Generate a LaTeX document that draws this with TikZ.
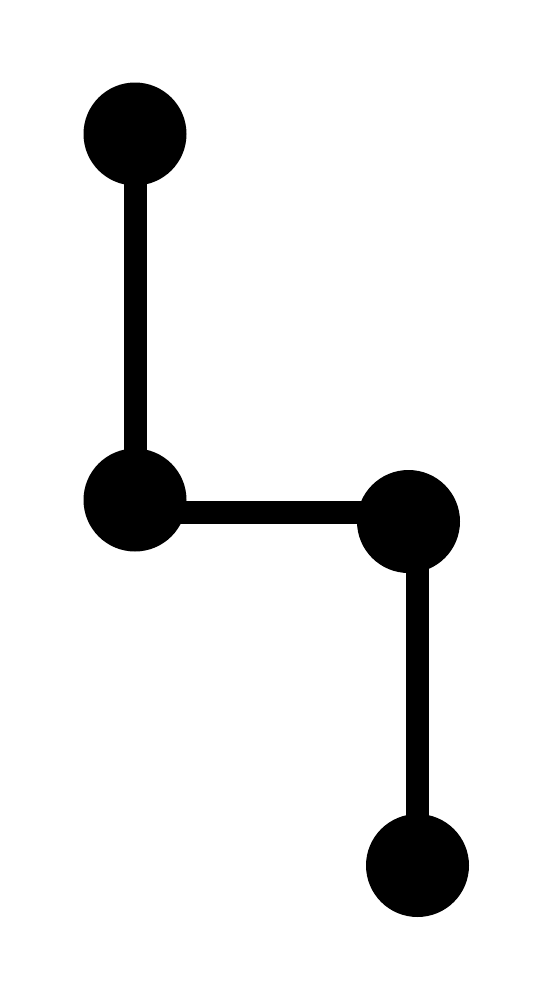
\documentclass[tikz,border=0pt]{standalone}
\usetikzlibrary{positioning}

\begin{document}
\begin{tikzpicture}[dot/.style={draw=none,fill=black,circle,
    minimum size=2.06cm,inner sep=0pt},
  link/.style={line width=0.46cm}]
  \useasboundingbox (0,0) rectangle (11,-20);
  \node[dot] (top) at (2.7,-2.68) {};
  \node[dot] (left) at (2.7,-10.0) {};
  \node[dot] (right) at (8.17,-10.43) {};
  \node[dot] (bottom) at (8.35,-17.31) {};
  \coordinate (bar) at ([yshift=-0.25cm]left.center);

  \draw[link] (top.center) -- (left.center);
  \draw[link] (bar) -- (bar -| right.center);
  \draw[link] (bottom.center) -- (bottom.center |- right.center);
\end{tikzpicture}
\end{document}
